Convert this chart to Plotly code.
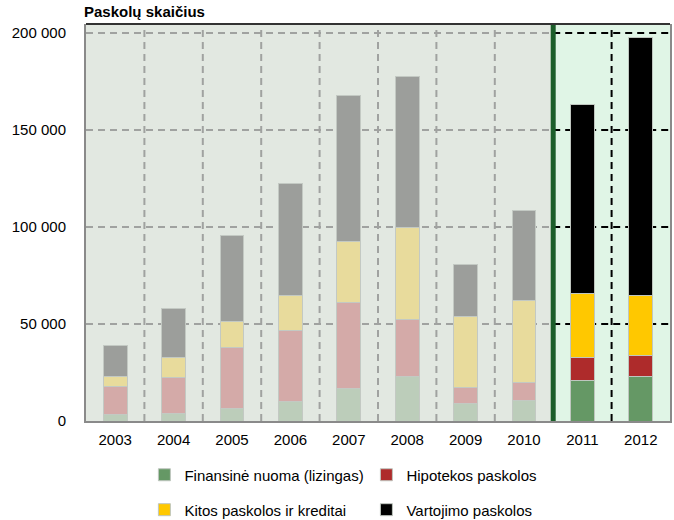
import plotly.graph_objects as go

years = ['2003', '2004', '2005', '2006', '2007', '2008', '2009', '2010', '2011', '2012']
finansine = [3400, 4000, 6700, 10200, 16500, 23000, 9100, 10500, 21000, 22700]
hipotekos = [14300, 18300, 31400, 36700, 44800, 29100, 8400, 9100, 11800, 11300]
kitos = [5300, 10200, 13300, 17700, 31100, 47400, 36500, 42400, 33000, 30900]
vartojimo = [15700, 25600, 44100, 57900, 75600, 78300, 26900, 46600, 97400, 132900]
y_ticks = [0, 50000, 100000, 150000, 200000]

series_names = ['Finansinė nuoma (lizingas)', 'Hipotekos paskolos',
                'Kitos paskolos ir kreditai', 'Vartojimo paskolos']
faded_colors = ['#BCCDBA', '#D4AAA8', '#E8DB9C', '#9C9E9B']
bright_colors = ['#659865', '#AE2B2B', '#FFC800', '#000000']
legend_ids = ['legend', 'legend', 'legend2', 'legend2']

n_hist = 8  # 2003-2010 shown faded, 2011-2012 bright
n_all = len(years)

fig = go.Figure()
all_series = [finansine, hipotekos, kitos, vartojimo]
for i, vals in enumerate(all_series):
    fig.add_trace(go.Bar(
        x=years[:n_hist], y=vals[:n_hist], name=series_names[i],
        marker=dict(color=faded_colors[i], line=dict(color='#C3C9C3', width=1)),
        showlegend=False, legend=legend_ids[i]))
for i, vals in enumerate(all_series):
    fig.add_trace(go.Bar(
        x=years[n_hist:], y=vals[n_hist:], name=series_names[i],
        marker=dict(color=bright_colors[i], line=dict(color='#BFC6BF', width=1)),
        showlegend=True, legend=legend_ids[i]))

font_family = 'Liberation Sans, Arial, sans-serif'
grid_dash = '7px,5px'
grey_grid = dict(color='#A0A2A0', width=2, dash=grid_dash)
black_grid = dict(color='black', width=2, dash=grid_dash)

shapes = [
    dict(type='rect', xref='x', yref='y domain', x0=n_hist - 0.5, x1=n_all - 0.5,
         y0=0, y1=1, fillcolor='#E0F5E6', line=dict(width=0), layer='below'),
]
# horizontal grid lines
for v in y_ticks[1:]:
    shapes.append(dict(type='line', xref='x', yref='y', x0=-0.5, x1=n_hist - 0.5,
                       y0=v, y1=v, line=grey_grid, layer='below'))
    shapes.append(dict(type='line', xref='x', yref='y', x0=n_hist - 0.5, x1=n_all - 0.5,
                       y0=v, y1=v, line=black_grid, layer='below'))
# vertical grid lines at category boundaries
for k in range(n_all - 1):
    b = k + 0.5
    if b == n_hist - 0.5:
        continue
    shapes.append(dict(type='line', xref='x', yref='y domain', x0=b, x1=b, y0=0, y1=1,
                       line=grey_grid if b < n_hist else black_grid, layer='below'))
shapes.append(dict(type='line', xref='x', yref='y domain', x0=n_hist - 0.5, x1=n_hist - 0.5,
                   y0=0, y1=1, line=dict(color='#1B5E2A', width=5), layer='above'))
shapes.append(dict(type='line', xref='x domain', yref='y domain', x0=0, x1=1,
                   y0=1, y1=1, line=dict(color='#333333', width=2), layer='above'))

fig.update_layout(
    width=674, height=520,
    margin=dict(l=86, r=4, t=24, b=99, autoexpand=False),
    barmode='stack', bargap=0.59,
    plot_bgcolor='#E2E8E1', paper_bgcolor='white',
    separators='. ',
    font=dict(family=font_family, size=15, color='black'),
    shapes=shapes,
    annotations=[dict(text='<b>Paskolų skaičius</b>', xref='paper', yref='paper',
                      x=0, y=1, xshift=-4, yshift=2, xanchor='left', yanchor='bottom',
                      showarrow=False, font=dict(size=15, family=font_family))],
    xaxis=dict(type='category', showgrid=False, showline=True, linecolor='#8A8A8A',
               linewidth=2, ticks='', tickfont=dict(size=15), ticklabelstandoff=4,
               automargin=False, range=[-0.5, n_all - 0.5]),
    yaxis=dict(range=[0, 204600], tickvals=y_ticks,
               tickformat=',d', showgrid=False, showline=True, linecolor='#8A8A8A',
               linewidth=2, mirror=True, zeroline=False, ticks='', ticklabelstandoff=15,
               tickfont=dict(size=15), automargin=False),
    legend=dict(orientation='h', x=0.10, y=-0.136, xanchor='left', yanchor='middle',
                entrywidth=177, entrywidthmode='pixels', font=dict(size=15),
                bgcolor='rgba(0,0,0,0)', traceorder='normal'),
    legend2=dict(orientation='h', x=0.10, y=-0.224, xanchor='left', yanchor='middle',
                 entrywidth=177, entrywidthmode='pixels', font=dict(size=15),
                 bgcolor='rgba(0,0,0,0)', traceorder='normal'),
)

fig.write_html('out.html', config={'displayModeBar': False},
               post_script="document.body.style.margin='0px';document.body.style.overflow='hidden';")
